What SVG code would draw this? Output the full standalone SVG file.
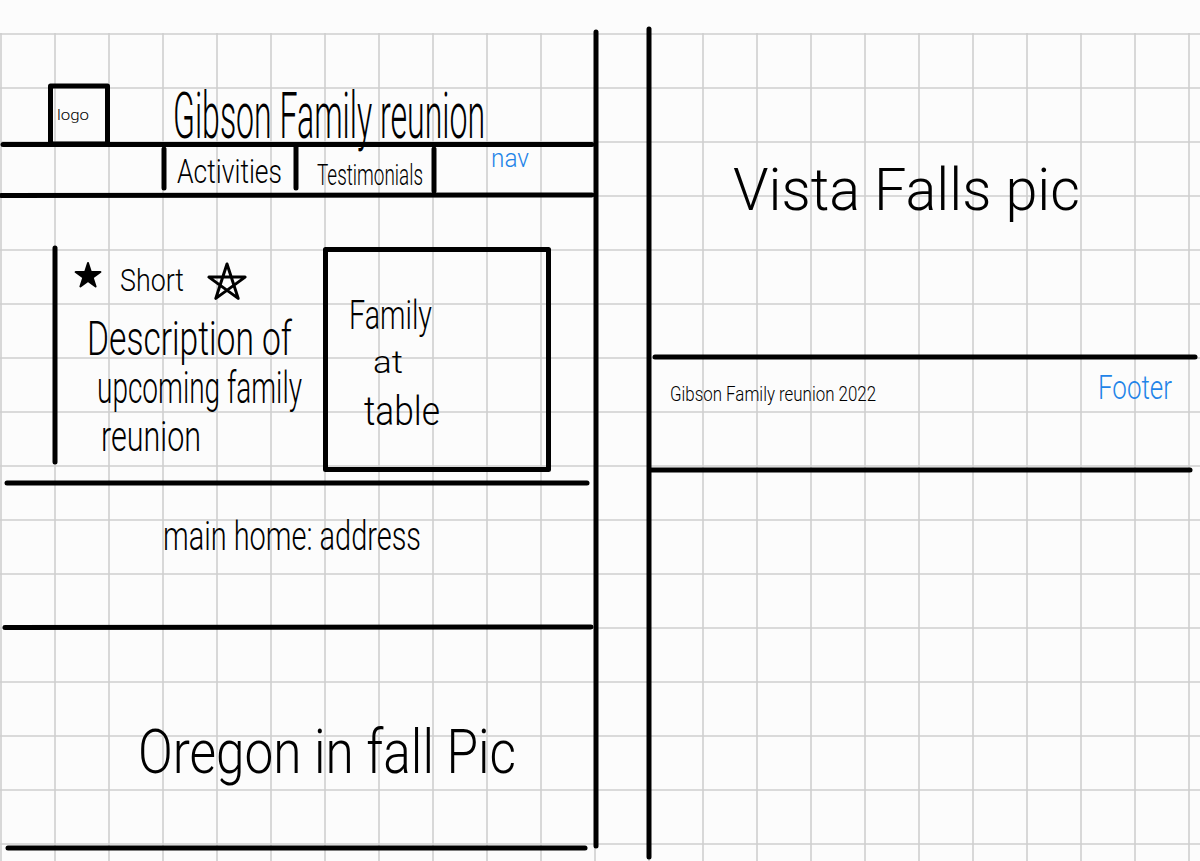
<svg xmlns="http://www.w3.org/2000/svg" width="1200" height="861" viewBox="0 0 1200 861">
<defs>
<style>
.grid line{stroke:#cfcfcf;stroke-width:1.6}
.ink{stroke:#000;stroke-width:5;stroke-linecap:round;fill:none}
.box{stroke:#000;stroke-width:5;fill:none;stroke-linejoin:round}
.t{font-family:Roboto,"Liberation Sans","DejaVu Sans",sans-serif;font-weight:300;fill:#000}
.blue{fill:#1f84e8}
</style>
</defs>
<rect x="0" y="0" width="1200" height="861" fill="#fcfcfc"/>
<g class="grid" id="grid">
<line x1="1" y1="33" x2="1" y2="861"/><line x1="55" y1="33" x2="55" y2="861"/><line x1="109" y1="33" x2="109" y2="861"/><line x1="163" y1="33" x2="163" y2="861"/><line x1="217" y1="33" x2="217" y2="861"/><line x1="271" y1="33" x2="271" y2="861"/><line x1="325" y1="33" x2="325" y2="861"/><line x1="379" y1="33" x2="379" y2="861"/><line x1="433" y1="33" x2="433" y2="861"/><line x1="487" y1="33" x2="487" y2="861"/><line x1="541" y1="33" x2="541" y2="861"/><line x1="595" y1="33" x2="595" y2="861"/><line x1="649" y1="33" x2="649" y2="861"/><line x1="703" y1="33" x2="703" y2="861"/><line x1="757" y1="33" x2="757" y2="861"/><line x1="811" y1="33" x2="811" y2="861"/><line x1="865" y1="33" x2="865" y2="861"/><line x1="919" y1="33" x2="919" y2="861"/><line x1="973" y1="33" x2="973" y2="861"/><line x1="1027" y1="33" x2="1027" y2="861"/><line x1="1081" y1="33" x2="1081" y2="861"/><line x1="1135" y1="33" x2="1135" y2="861"/><line x1="1189" y1="33" x2="1189" y2="861"/>
<line x1="0" y1="34" x2="1200" y2="34"/><line x1="0" y1="88" x2="1200" y2="88"/><line x1="0" y1="142" x2="1200" y2="142"/><line x1="0" y1="196" x2="1200" y2="196"/><line x1="0" y1="250" x2="1200" y2="250"/><line x1="0" y1="304" x2="1200" y2="304"/><line x1="0" y1="358" x2="1200" y2="358"/><line x1="0" y1="412" x2="1200" y2="412"/><line x1="0" y1="466" x2="1200" y2="466"/><line x1="0" y1="520" x2="1200" y2="520"/><line x1="0" y1="574" x2="1200" y2="574"/><line x1="0" y1="628" x2="1200" y2="628"/><line x1="0" y1="682" x2="1200" y2="682"/><line x1="0" y1="736" x2="1200" y2="736"/><line x1="0" y1="790" x2="1200" y2="790"/><line x1="0" y1="844" x2="1200" y2="844"/>
</g>
<g id="connectors">
<line class="ink" x1="596" y1="32" x2="596" y2="846"/>
<line class="ink" x1="649" y1="29" x2="649" y2="857"/>
<line class="ink" x1="3" y1="144.5" x2="592" y2="144.5"/>
<line class="ink" x1="1" y1="195.5" x2="592" y2="195"/>
<line class="ink" x1="7" y1="483" x2="587" y2="483"/>
<line class="ink" x1="5" y1="627.5" x2="591" y2="627"/>
<line class="ink" x1="8" y1="848" x2="585" y2="848"/>
<line class="ink" x1="655" y1="357" x2="1195" y2="357"/>
<line class="ink" x1="651" y1="470" x2="1190" y2="470"/>
</g>
<g id="logo">
<rect class="box" x="50.5" y="86" width="57" height="58" stroke-width="4.5"/>
<text class="t" x="57" y="120" font-size="15" textLength="32" lengthAdjust="spacingAndGlyphs">logo</text>
</g>
<g id="title">
<text class="t" x="173" y="138" font-size="64" textLength="312" lengthAdjust="spacingAndGlyphs">Gibson Family reunion</text>
</g>
<g id="nav">
<line class="ink" x1="164" y1="149" x2="164" y2="188" stroke-width="3.5"/>
<line class="ink" x1="296" y1="146" x2="296" y2="188" stroke-width="3.5"/>
<line class="ink" x1="434" y1="149" x2="434" y2="191" stroke-width="3.5"/>
<text class="t" x="177" y="183" font-size="34" textLength="105" lengthAdjust="spacingAndGlyphs">Activities</text>
<text class="t" x="317" y="185" font-size="30" textLength="106" lengthAdjust="spacingAndGlyphs">Testimonials</text>
<text class="t blue" x="491" y="167" font-size="26" textLength="38" lengthAdjust="spacingAndGlyphs">nav</text>
</g>
<g id="intro">
<line class="ink" x1="55" y1="248" x2="55" y2="462" stroke-width="4"/>
<polygon points="88,263 95.6,286.5 75.6,272 100.4,272 80.4,286.5" fill="#000" stroke="#000" stroke-width="2" stroke-linejoin="round"/>
<text class="t" x="120" y="291" font-size="32" textLength="64" lengthAdjust="spacingAndGlyphs">Short</text>
<polygon points="227,264 238.2,298.4 208.9,277.1 245.1,277.1 215.8,298.4" fill="none" stroke="#000" stroke-width="3" stroke-linejoin="round"/>
<text class="t" x="87" y="355" font-size="48" textLength="205" lengthAdjust="spacingAndGlyphs">Description of</text>
<text class="t" x="97" y="403" font-size="44" textLength="205" lengthAdjust="spacingAndGlyphs">upcoming family</text>
<text class="t" x="101" y="451" font-size="42" textLength="100" lengthAdjust="spacingAndGlyphs">reunion</text>
</g>
<g id="family-image">
<rect class="box" x="325.5" y="249.5" width="223" height="220"/>
<text class="t" x="349" y="329" font-size="40" textLength="83" lengthAdjust="spacingAndGlyphs">Family</text>
<text class="t" x="373" y="373" font-size="32" textLength="30" lengthAdjust="spacingAndGlyphs">at</text>
<text class="t" x="364" y="425" font-size="40" textLength="76" lengthAdjust="spacingAndGlyphs">table</text>
</g>
<g id="address">
<text class="t" x="163" y="550" font-size="40" textLength="258" lengthAdjust="spacingAndGlyphs">main home: address</text>
</g>
<g id="oregon-pic">
<text class="t" x="138" y="773" font-size="62" textLength="378" lengthAdjust="spacingAndGlyphs">Oregon in fall Pic</text>
</g>
<g id="vista-pic">
<text class="t" x="733" y="210" font-size="60" textLength="347" lengthAdjust="spacingAndGlyphs">Vista Falls pic</text>
</g>
<g id="footer">
<text class="t" x="670" y="401" font-size="21" textLength="206" lengthAdjust="spacingAndGlyphs">Gibson Family reunion 2022</text>
<text class="t blue" x="1098" y="399" font-size="34" textLength="74" lengthAdjust="spacingAndGlyphs">Footer</text>
</g>
</svg>
